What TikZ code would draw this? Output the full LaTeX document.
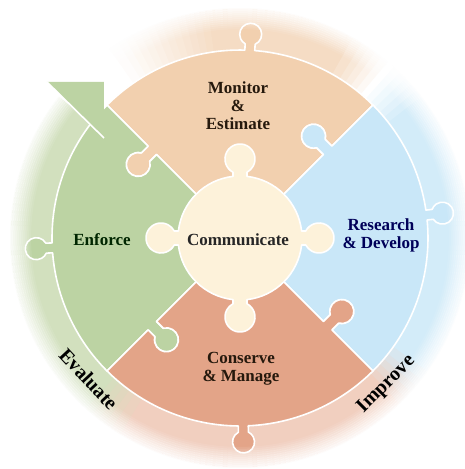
\documentclass[tikz,border=0pt]{standalone}
\usepackage{fontspec}
\setmainfont{Liberation Serif}
\usetikzlibrary{positioning}

\definecolor{peach}{HTML}{F2D0AF}
\definecolor{sky}{HTML}{C9E7F8}
\definecolor{sage}{HTML}{BCD3A3}
\definecolor{salmon}{HTML}{E3A488}
\definecolor{cream}{HTML}{FDF2DA}
\definecolor{ringgreen}{HTML}{D2E0BE}
\definecolor{ringsalmon}{HTML}{F1CFBF}
\definecolor{ringblue}{HTML}{D3ECF9}
\definecolor{ringpeach}{HTML}{F5DCC4}

\tikzset
{
    piece/.style     = {draw=white, line width=1.6pt, line join=round},
    piecetext/.style = {align=center, font=\fontsize{17}{18}\selectfont\bfseries},
    ringtext/.style  = {font=\fontsize{20}{22}\selectfont\bfseries}
}

% one puzzle piece, drawn for the top; #1 turns its outer tab
\newcommand{\piecepath}[1]{%
  (45:62)
  {[rotate=45] -- (118,0) -- (118,9.6) arc[start angle=240, end angle=-60, radius=12] -- (130,0)}
  -- (45:188) arc[start angle=45, end angle=88.5+#1, radius=188]
  {[rotate=#1] -- (5,194.2) arc[start angle=-63, end angle=243, radius=11] -- (-5,187.9)}
  arc[start angle=91.5+#1, end angle=135, radius=188]
  {[rotate=135] -- (130,0) -- (130,9.6) arc[start angle=-60, end angle=240, radius=12] -- (118,0) -- (62,0)}
  arc[start angle=135, end angle=96.48, radius=62]
  -- (-7,65.73) arc[start angle=242.2, end angle=-62.2, radius=15] -- (7,61.6)
  arc[start angle=83.52, end angle=45, radius=62] -- cycle}
% a bit of the ring between two angles
\newcommand{\ringpart}[2]{(#1:186) arc[start angle=#1, end angle=#2, radius=186] -- (#2:230)
  arc[start angle=#2, end angle=#1, radius=230] -- cycle}

\begin{document}
\begin{tikzpicture}[x=1pt, y=1pt]
\useasboundingbox (-240,-231) rectangle (225,238);

%% ring
\fill[ringgreen]  \ringpart{142}{227};
\fill[ringsalmon] \ringpart{237}{313};
\fill[ringblue]   \ringpart{323}{397};
\fill[ringpeach]  \ringpart{419}{457};
\foreach \a [evaluate=\a as \p using (\a-226)*100/12] in {226,228,...,236}
  \fill[ringsalmon!\p!ringgreen] \ringpart{\a}{\a+2.6};
\foreach \a [evaluate=\a as \p using (\a-312)*100/12] in {312,314,...,322}
  \fill[ringblue!\p!ringsalmon] \ringpart{\a}{\a+2.6};
\foreach \a [evaluate=\a as \p using (408-\a)*100/12] in {396,398,...,406}
  \fill[ringblue!\p!white] \ringpart{\a}{\a+2.6};
\foreach \a [evaluate=\a as \p using (\a-408)*100/12] in {408,410,...,418}
  \fill[ringpeach!\p!white] \ringpart{\a}{\a+2.6};
\foreach \a [evaluate=\a as \p using (484-\a)*100/28] in {456,458,...,482}
  \fill[ringpeach!\p!white] \ringpart{\a}{\a+2.6};

\fill[cream] (0,0) circle[radius=100];

%% pieces
\filldraw[piece, fill=peach]               \piecepath{-3};
\filldraw[piece, fill=sky, rotate=-90]     \piecepath{7};
\filldraw[piece, fill=sage, rotate=90]     \piecepath{3};
\filldraw[piece, fill=salmon, rotate=180]  \piecepath{1};

\foreach \r [evaluate=\r as \o using (\r-208)/24] in {210,212,...,232}
  \draw[white, opacity=\o, line width=2.2pt] (0,0) circle[radius=\r];

%% arrow head
\fill[sage] (-193,156) -- (-136,156) -- (-136,100) -- cycle;
\draw[white, line width=1.6pt] (-193,156) -- (-136,100);

\node (monitor)     [piecetext, text=black!80!brown]  at (-2,132)  {Monitor \\ \& \\ Estimate};
\node (enforce)     [piecetext, text=black!85!green]  at (-138,-2) {Enforce};
\node (communicate) [piecetext, text=black!85]        at (-2,-2)   {Communicate};
\node (research)    [piecetext, text=blue!35!black]   at (141,3)   {Research \\ \& Develop};
\node (conserve)    [piecetext, text=black!80!brown]  at (1,-131)  {Conserve \\ \& Manage};
\node (evaluate)    [ringtext, rotate=-47]            at (223:207) {Evaluate};
\node (improve)     [ringtext, rotate=45]             at (-45:207) {Improve};
\end{tikzpicture}
\end{document}
